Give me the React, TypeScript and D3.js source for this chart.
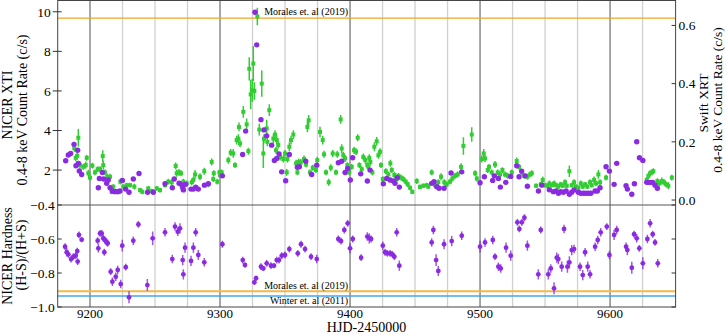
import React from "react";
import * as d3 from "d3";

// NICER XTI count rate (left axis): [HJD-2450000, rate c/s]
const nicerRate: [number, number][] = [
  [9181.3,2.47],[9183.3,2.76],[9185.1,2.84],[9187.7,3.3],[9190.5,3.0],[9189.2,2.22],[9191,2.34],[9191.8,1.96],[9193.6,1.78],
  [9207.2,1.58],[9206.4,1.11],[9209.5,1.88],[9210.5,1.55],[9212.8,1.33],[9214,1.5],[9215.4,1.11],[9217.2,0.94],[9219.2,0.91],[9221.3,0.91],[9223,0.94],[9224.9,1.48],[9227.4,1.04],[9230,0.88],[9233.3,1.55],[9237.7,1.83],[9244.3,0.88],[9248.7,0.88],[9257.7,1.31],[9263.3,1.11],[9264.8,1.55],[9268.5,1.34],[9270,1.28],[9271.3,1.11],[9271.8,1.0],[9273.5,1.28],[9277.7,1.04],[9279.5,1.04],[9281.3,1.14],[9283.3,1.04],[9288,1.24],[9291,1.31],
  [9301.8,1.71],[9317.4,2.79],[9319.7,3.97],[9326.9,9.98],[9328.2,8.33],[9331.5,4.55],[9333.8,4.03],[9335.9,3.73],[9339.7,3.26],[9341.8,2.49],[9343.6,2.59],[9345.4,2.82],[9347.4,1.91],[9350.5,1.46],[9353.3,2.79],[9359.5,2.14],[9361,2.17],[9365.9,2.45],[9370.5,1.78],[9374.4,2.25],[9391,2.37],[9393.6,2.45],[9396.2,1.88],[9398.2,2.08],[9400.2,1.5],[9402,2.62],[9408.2,1.81],[9413.3,1.45],[9415.4,2.0],[9425.6,1.31],[9428.2,1.58],[9430.8,1.5],[9433.3,1.45],[9434.6,1.33],[9436.4,1.61],[9437.9,1.14],
  [9462.8,1.33],[9464.6,1.41],[9466.7,1.16],[9468.5,1.08],[9472.3,1.08],[9477.7,1.85],[9485.9,1.91],[9500,1.36],[9503.3,1.66],[9509.7,1.48],[9511,1.71],[9514.1,1.58],[9515.6,1.14],[9519.8,1.38],[9523.6,1.68],[9528.2,2.22],[9530,1.66],[9532,1.95],[9534.6,1.71],[9536.4,1.18],[9544.9,0.94],[9547.5,1.24],[9553.3,1.01],[9556.4,0.91],[9558.5,0.94],[9560.3,0.83],[9562.1,0.91],[9564.1,0.88],[9566.2,0.94],[9568.7,0.78],[9570.5,0.88],[9572.3,1.0],[9575.6,0.88],[9577.4,0.83],[9579.5,0.83],[9581.3,0.83],[9583.3,0.83],[9585.2,0.83],[9588.5,0.94],[9590.2,0.94],[9592.3,1.11],[9596.9,2.17],[9599.5,1.95],[9603.1,1.28],[9605.1,2.34],[9612.3,1.21],[9613.3,1.04],[9616.7,0.78],[9618.7,1.31],[9620.5,3.43],[9622.6,2.62],[9625.2,2.49],[9628.2,1.38],[9629.5,1.38],[9631.3,1.38],[9632.8,1.38],[9634.6,1.24],[9636.4,1.08]
];

// Swift XRT count rate (right axis): [HJD-2450000, rate c/s, error]
const swiftRate: [number, number, number][] = [
  [9187.9,0.178,0.012],[9191.0,0.214,0.03],[9189.0,0.145,0.012],[9190.2,0.152,0.012],[9192.3,0.12,0.012],[9194.8,0.114,0.01],[9196.7,0.12,0.012],[9197.5,0.145,0.01],[9198.7,0.092,0.012],[9200,0.077,0.01],
  [9201.8,0.118,0.01],[9203.8,0.095,0.01],[9205.9,0.106,0.01],[9207.7,0.106,0.01],[9209.8,0.151,0.02],[9210.2,0.12,0.015],[9211.5,0.095,0.01],[9213.3,0.08,0.01],[9215.4,0.08,0.01],[9216.7,0.028,0.008],[9217.9,0.046,0.008],[9219.8,0.031,0.008],[9221.8,0.028,0.008],[9223.3,0.063,0.01],[9225.6,0.046,0.008],[9228.2,0.051,0.008],[9230.8,0.051,0.008],[9234.1,0.046,0.01],[9238.5,0.034,0.008],[9240.2,0.028,0.008],[9244.8,0.04,0.008],[9247.5,0.031,0.008],[9251.3,0.04,0.008],[9253.8,0.034,0.008],[9257.7,0.051,0.008],[9260.2,0.063,0.01],[9262.8,0.061,0.01],[9265.9,0.117,0.012],[9266.7,0.092,0.012],[9268.5,0.095,0.012],[9270,0.092,0.01],[9271.8,0.063,0.01],[9274.4,0.057,0.01],[9278.2,0.061,0.01],[9279.5,0.069,0.012],[9280.8,0.088,0.015],[9284.6,0.08,0.012],[9287.9,0.099,0.012],[9291,0.054,0.01],[9293.6,0.131,0.012],[9295.2,0.092,0.01],
  [9294.8,0.072,0.01],[9297.9,0.063,0.01],[9299.5,0.095,0.01],[9301.3,0.095,0.01],[9300,0.086,0.01],[9306.4,0.137,0.012],[9308.2,0.163,0.012],[9310.2,0.16,0.015],[9311.5,0.12,0.01],[9312.8,0.206,0.015],[9314.1,0.211,0.015],[9315.4,0.194,0.012],[9314.6,0.251,0.015],[9317.9,0.303,0.02],[9320.5,0.26,0.02],[9321.8,0.168,0.012],
  [9322.5,0.451,0.04],[9323.6,0.363,0.05],[9324.8,0.377,0.04],[9325.6,0.469,0.06],[9326.4,0.375,0.03],[9328.7,0.631,0.03],[9332.1,0.4,0.045],[9330.2,0.242,0.02],[9333.3,0.16,0.05],[9335.9,0.246,0.03],[9337.9,0.309,0.02],[9333.8,0.211,0.015],[9336.4,0.2,0.015],
  [9341,0.211,0.015],[9342.3,0.225,0.015],[9343.6,0.206,0.015],[9344.8,0.189,0.012],[9343.1,0.171,0.012],[9346.2,0.148,0.012],[9348.7,0.141,0.012],[9350,0.16,0.012],[9351.8,0.141,0.012],[9351.3,0.095,0.012],[9353.3,0.183,0.015],[9354.6,0.206,0.015],[9356.4,0.225,0.015],[9358.5,0.126,0.012],[9359.5,0.095,0.01],[9360.5,0.131,0.012],[9362.1,0.129,0.012],[9364.6,0.141,0.012],[9366.2,0.122,0.01],[9367.2,0.251,0.018],[9368.2,0.274,0.018],[9369.2,0.095,0.01],[9371.3,0.111,0.01],[9373.8,0.103,0.01],[9374.8,0.137,0.012],[9376.9,0.234,0.018],[9379,0.206,0.015],[9380,0.157,0.012],[9381.5,0.095,0.01],[9383.6,0.061,0.012],[9385.2,0.111,0.012],[9386.7,0.16,0.012],[9389.2,0.095,0.01],[9390.2,0.157,0.012],[9392.8,0.277,0.015],[9393.6,0.177,0.015],[9394.8,0.154,0.012],[9396.2,0.143,0.012],[9397.9,0.12,0.01],[9399.5,0.095,0.01],
  [9401.3,0.114,0.01],[9403.1,0.171,0.012],[9404.6,0.166,0.012],[9405.9,0.214,0.012],[9407.2,0.12,0.01],[9409,0.106,0.01],[9410.2,0.148,0.012],[9411.8,0.137,0.012],[9413.3,0.12,0.01],[9414.8,0.145,0.012],[9414.1,0.114,0.01],[9415.6,0.131,0.012],[9417.2,0.095,0.01],[9418.7,0.183,0.015],[9420.5,0.202,0.015],[9421.8,0.154,0.012],[9423.1,0.166,0.012],[9423.8,0.12,0.01],[9425.2,0.072,0.01],[9427.5,0.099,0.01],[9429.5,0.088,0.01],[9431,0.126,0.012],[9432.1,0.103,0.01],[9434.1,0.086,0.01],[9435.9,0.072,0.01],[9437.2,0.083,0.01],[9439.2,0.077,0.01],[9441,0.072,0.01],[9442.8,0.063,0.01],[9444.4,0.054,0.01],[9446.2,0.042,0.008],[9447.9,0.028,0.008],[9451.3,0.065,0.01],[9453.8,0.045,0.008],[9456.4,0.049,0.008],[9459,0.051,0.008],[9460.2,0.046,0.008],[9462.8,0.095,0.01],[9465.4,0.051,0.008],[9467.9,0.061,0.01],[9470,0.08,0.012],[9472.5,0.061,0.01],[9474.4,0.054,0.01],[9476.9,0.063,0.01],[9478.7,0.074,0.01],[9480.8,0.083,0.01],[9482.8,0.088,0.01],[9485.4,0.114,0.012],[9487.2,0.186,0.03],[9493.6,0.225,0.025],[9496.2,0.092,0.01],[9497.5,0.074,0.01],
  [9501.3,0.141,0.012],[9502.8,0.16,0.015],[9503.8,0.143,0.012],[9505.9,0.103,0.01],[9506.9,0.114,0.01],[9509,0.095,0.01],[9511.5,0.122,0.012],[9513.6,0.095,0.01],[9515.4,0.088,0.01],[9517.2,0.103,0.01],[9519.2,0.088,0.01],[9521.3,0.083,0.01],[9524.4,0.095,0.01],[9528.2,0.134,0.012],[9530,0.114,0.01],[9532.1,0.095,0.01],[9534.1,0.083,0.01],[9536.4,0.08,0.01],[9538.5,0.088,0.01],[9539.8,0.092,0.01],[9543.1,0.049,0.008],[9546.7,0.054,0.008],[9548.2,0.069,0.012],[9550,0.051,0.008],[9551.8,0.049,0.008],[9553.3,0.057,0.01],[9555.2,0.051,0.008],[9556.9,0.057,0.01],[9558.5,0.051,0.008],[9560.2,0.046,0.008],[9562.1,0.054,0.008],[9563.6,0.049,0.008],[9565.4,0.061,0.01],[9566.7,0.049,0.008],[9568.7,0.099,0.02],[9570.5,0.051,0.008],[9572.3,0.061,0.01],[9573.8,0.046,0.008],[9575.6,0.042,0.008],[9577.5,0.057,0.01],[9579,0.046,0.008],[9580.8,0.054,0.008],[9582.5,0.046,0.008],[9584.6,0.061,0.01],[9585.9,0.051,0.008],[9587.7,0.069,0.012],[9589.2,0.057,0.01],[9591,0.088,0.015],[9592.3,0.061,0.01],[9596.9,0.077,0.01],
  [9628.2,0.069,0.01],[9629.5,0.083,0.01],[9630.8,0.092,0.01],[9632.1,0.095,0.01],[9633.3,0.099,0.01],[9636.4,0.065,0.01],[9637.9,0.057,0.01],[9639.8,0.065,0.012],[9641.5,0.061,0.01],[9643.1,0.054,0.01],[9644.8,0.049,0.012],[9647.5,0.077,0.01]
];

// NICER hardness ratio (H-S)/(H+S): [HJD-2450000, hardness, error]
const hardness: [number, number, number][] = [
  [9180.8,-0.645,0.02],[9182.1,-0.678,0.025],[9183.3,-0.69,0.02],[9185.4,-0.718,0.02],[9187.2,-0.704,0.02],[9189,-0.698,0.02],[9190.5,-0.733,0.02],[9190.2,-0.671,0.02],[9191.5,-0.576,0.02],[9193.6,-0.604,0.015],
  [9205.9,-0.61,0.02],[9206.4,-0.655,0.025],[9207.7,-0.567,0.02],[9209,-0.567,0.02],[9210.2,-0.596,0.02],[9211.5,-0.606,0.02],[9211,-0.678,0.02],[9212.8,-0.62,0.02],[9213.6,-0.625,0.02],[9215.9,-0.792,0.02],[9217.2,-0.851,0.025],[9219.8,-0.822,0.025],[9221.3,-0.782,0.025],[9223.6,-0.865,0.025],[9224.8,-0.639,0.035],[9227.5,-0.766,0.02],[9230,-0.943,0.035],[9233.3,-0.61,0.025],[9237.2,-0.514,0.02],[9244.1,-0.871,0.035],[9248.2,-0.596,0.04],[9257.7,-0.561,0.025],[9263.3,-0.718,0.025],[9265.4,-0.527,0.025],[9267.5,-0.557,0.025],[9269.2,-0.537,0.03],[9271.3,-0.724,0.03],[9271.8,-0.808,0.03],[9273.1,-0.651,0.03],[9277.7,-0.729,0.03],[9279.5,-0.651,0.03],[9281.3,-0.561,0.025],[9283.3,-0.694,0.03],[9287.9,-0.737,0.025],
  [9301.8,-0.631,0.02],[9317.5,-0.724,0.02],[9319.2,-0.753,0.015],[9326.4,-0.855,0.015],[9327.7,-0.831,0.015],[9331.5,-0.763,0.02],[9333.3,-0.773,0.015],[9335.9,-0.743,0.02],[9339.2,-0.757,0.02],[9341.5,-0.757,0.015],[9343.6,-0.724,0.02],[9345.4,-0.724,0.02],[9347.5,-0.698,0.02],[9350,-0.694,0.02],[9353.3,-0.659,0.02],[9359.8,-0.684,0.02],[9362.3,-0.631,0.02],[9365.4,-0.659,0.02],[9370,-0.704,0.02],[9374.4,-0.718,0.025],
  [9391,-0.6,0.02],[9393.1,-0.612,0.02],[9395.6,-0.547,0.02],[9398.2,-0.508,0.02],[9400,-0.655,0.03],[9402.1,-0.6,0.02],[9408.5,-0.71,0.02],[9413.3,-0.586,0.025],[9414.8,-0.596,0.03],[9416.2,-0.6,0.02],[9425.2,-0.639,0.025],[9426.9,-0.678,0.02],[9428.7,-0.684,0.02],[9430.8,-0.684,0.02],[9432.5,-0.69,0.02],[9434.1,-0.704,0.02],[9435.9,-0.561,0.025],[9437.9,-0.757,0.03],
  [9462.8,-0.62,0.025],[9464.1,-0.547,0.025],[9466.2,-0.724,0.035],[9467.9,-0.788,0.03],[9472.3,-0.631,0.03],[9478.2,-0.612,0.03],[9485.9,-0.581,0.025],[9500,-0.645,0.035],[9503.8,-0.62,0.025],[9509.8,-0.606,0.025],[9511.5,-0.704,0.02],[9514.1,-0.763,0.025],[9515.9,-0.773,0.025],[9520,-0.651,0.03],[9523.6,-0.698,0.03],[9528.7,-0.502,0.02],[9530.2,-0.541,0.02],[9532.1,-0.502,0.02],[9534.1,-0.475,0.02],[9536.4,-0.639,0.03],
  [9544.8,-0.808,0.03],[9546.7,-0.547,0.02],[9552.5,-0.808,0.03],[9554.4,-0.773,0.025],[9556.9,-0.89,0.035],[9559,-0.71,0.03],[9560.2,-0.718,0.03],[9562.8,-0.763,0.03],[9564.6,-0.541,0.025],[9567.2,-0.763,0.035],[9568.7,-0.737,0.035],[9570.5,-0.665,0.03],[9572.3,-0.659,0.025],[9576.9,-0.763,0.025],[9579,-0.812,0.03],[9580.8,-0.678,0.025],[9582.8,-0.763,0.03],[9584.6,-0.808,0.025],[9588.5,-0.645,0.025],[9590.5,-0.606,0.025],[9592.8,-0.561,0.025],[9597.5,-0.527,0.02],[9599.5,-0.694,0.025],
  [9603.1,-0.576,0.03],[9605.1,-0.547,0.025],[9612.3,-0.645,0.025],[9613.3,-0.665,0.03],[9616.7,-0.769,0.035],[9618.5,-0.572,0.02],[9620.5,-0.596,0.025],[9622.5,-0.655,0.02],[9625.2,-0.743,0.035],[9628.7,-0.6,0.025],[9630.8,-0.508,0.025],[9632.8,-0.572,0.02],[9634.6,-0.62,0.02],[9636.7,-0.743,0.025]
];

const leftTicks = [2, 4, 6, 8, 10];
const rightTicks = [0.0, 0.2, 0.4, 0.6];
const hardTicks = [-1.0, -0.8, -0.6, -0.4];
const xTicks = [9200, 9300, 9400, 9500, 9600];
const minorX = [9200, 9225, 9250, 9275, 9300, 9325, 9350, 9375, 9400, 9425, 9450, 9475, 9500, 9525, 9550, 9575, 9600, 9625];

const moralesRate = 9.68;
const moralesHard = -0.907;
const winterHard = -0.936;

const PURPLE = "#8a2be2";
const GREEN = "#32cd32";
const FONT = "'Liberation Serif', 'Times New Roman', serif";

export default function App() {
  const L = 57.7, R = 675.6, T = 0.5, MID = 205, B = 307;
  const x = d3.scaleLinear().domain([9175.15, 9650.4]).range([L, R]);
  const yL = d3.scaleLinear().domain([0.236, 10.57]).range([MID, T]);
  const yR = d3.scaleLinear().domain([-0.0171, 0.6857]).range([MID, T]);
  const yH = d3.scaleLinear().domain([-1.0, -0.4]).range([B, MID]);
  const fmt = d3.format(".1f");

  return (
    <svg width={725} height={335} style={{ position: "absolute", left: 0, top: 0, background: "#fff" }} fontFamily={FONT}>
      <defs>
        <clipPath id="topclip"><rect x={L} y={T} width={R - L} height={MID - T} /></clipPath>
        <clipPath id="botclip"><rect x={L} y={MID} width={R - L} height={B - MID} /></clipPath>
      </defs>
      {/* grid lines */}
      {minorX.map((d) => (
        <line key={"g" + d} x1={x(d)} x2={x(d)} y1={T} y2={B}
          stroke={xTicks.includes(d) ? "#8a8a8a" : "#d0d0d0"} strokeWidth={xTicks.includes(d) ? 1.5 : 1.3} />
      ))}
      {/* reference lines */}
      <line x1={L} x2={R} y1={yL(moralesRate)} y2={yL(moralesRate)} stroke="#f5a623" strokeWidth={1.3} />
      <line x1={L} x2={R} y1={yH(moralesHard)} y2={yH(moralesHard)} stroke="#f2b94a" strokeWidth={2} />
      <line x1={L} x2={R} y1={yH(winterHard)} y2={yH(winterHard)} stroke="#45a5ef" strokeWidth={1.5} />
      <text x={348} y={15} textAnchor="end" fontSize={10}>Morales et. al (2019)</text>
      <text x={348} y={289} textAnchor="end" fontSize={10}>Morales et. al (2019)</text>
      <text x={348} y={304} textAnchor="end" fontSize={10}>Winter et. al (2011)</text>

      {/* top panel data */}
      <g clipPath="url(#topclip)">
        {swiftRate.map(([d, v, e], i) => (
          <g key={"s" + i}>
            <line x1={x(d)} x2={x(d)} y1={yR(v - e)} y2={yR(v + e)} stroke={GREEN} strokeWidth={1.5} />
            <rect x={x(d) - 2} y={yR(v) - 2} width={4} height={4} fill={GREEN} />
          </g>
        ))}
        {nicerRate.map(([d, v], i) => (
          <circle key={"n" + i} cx={x(d)} cy={yL(v)} r={2.7} fill={PURPLE} />
        ))}
      </g>

      {/* bottom panel data */}
      <g clipPath="url(#botclip)">
        {hardness.map(([d, h, e], i) => (
          <g key={"h" + i}>
            <line x1={x(d)} x2={x(d)} y1={yH(h - e)} y2={yH(h + e)} stroke={PURPLE} strokeOpacity={0.8} strokeWidth={1.5} />
            <circle cx={x(d)} cy={yH(h)} r={2.4} fill={PURPLE} />
          </g>
        ))}
      </g>

      {/* frames */}
      <rect x={L} y={T} width={R - L} height={B - T} fill="none" stroke="#444" strokeWidth={1} />
      <line x1={L} x2={R} y1={MID} y2={MID} stroke="#555" strokeWidth={1} />

      {/* left axis top */}
      {leftTicks.map((t) => (
        <g key={"lt" + t}>
          <line x1={L - 5} x2={L + 4} y1={yL(t)} y2={yL(t)} stroke="#333" strokeWidth={1} />
          <text x={L - 7} y={yL(t)} dy="0.35em" textAnchor="end" fontSize={13.5}>{t}</text>
        </g>
      ))}
      {/* right axis top */}
      {rightTicks.map((t) => (
        <g key={"rt" + t}>
          <line x1={R - 4} x2={R} y1={yR(t)} y2={yR(t)} stroke="#333" strokeWidth={1} />
          <text x={R + 3} y={yR(t)} dy="0.35em" textAnchor="start" fontSize={13.5}>{fmt(t)}</text>
        </g>
      ))}
      {/* hardness axis */}
      {hardTicks.map((t) => (
        <g key={"ht" + t}>
          <line x1={L} x2={L + 4} y1={yH(t)} y2={yH(t)} stroke="#333" strokeWidth={1} />
          <line x1={R - 4} x2={R} y1={yH(t)} y2={yH(t)} stroke="#333" strokeWidth={1} />
          <text x={L - 3} y={yH(t)} dy="0.35em" textAnchor="end" fontSize={13.5}>{fmt(t).replace("-", "\u2212")}</text>
        </g>
      ))}
      {/* x axis */}
      {xTicks.map((t) => (
        <text key={"xt" + t} x={x(t)} y={318} textAnchor="middle" fontSize={13}>{t}</text>
      ))}
      <text x={366.5} y={331.5} textAnchor="middle" fontSize={14}>HJD-2450000</text>

      {/* axis titles */}
      <text transform="translate(12,105) rotate(-90)" textAnchor="middle" fontSize={14}>NICER XTI</text>
      <text transform="translate(27,110) rotate(-90)" textAnchor="middle" fontSize={14}>0.4-8 keV Count Rate (c/s)</text>
      <text transform="translate(12,256) rotate(-90)" textAnchor="middle" fontSize={14}>NICER Hardness</text>
      <text transform="translate(26,255) rotate(-90)" textAnchor="middle" fontSize={14}>(H-S)/(H+S)</text>
      <text transform="translate(708,103) rotate(-90)" textAnchor="middle" fontSize={13.5}>Swift XRT</text>
      <text transform="translate(722,100) rotate(-90)" textAnchor="middle" fontSize={13.5}>0.4-8 keV Count Rate (c/s)</text>
    </svg>
  );
}
